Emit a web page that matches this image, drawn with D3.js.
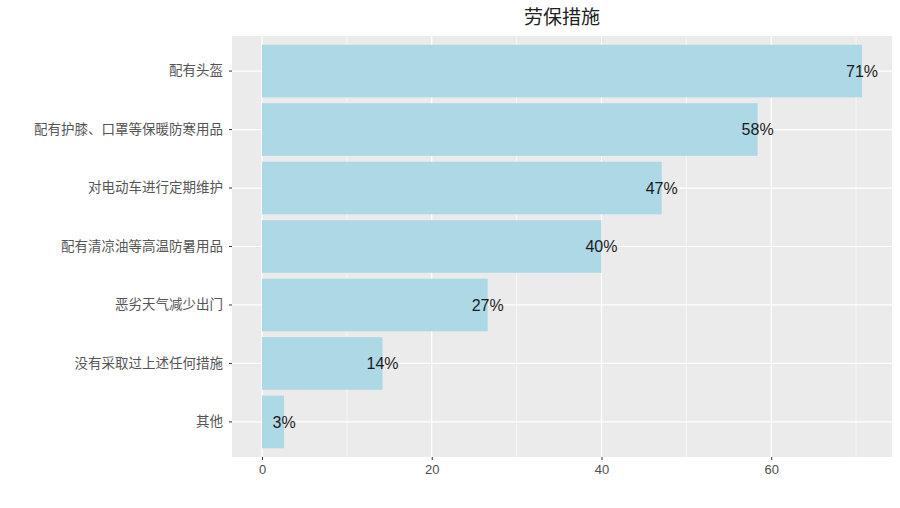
<!DOCTYPE html>
<html>
<head>
<meta charset="utf-8">
<title>劳保措施</title>
<script src="https://cdn.jsdelivr.net/npm/d3@7"></script>
<style>
  body { margin: 0; background: #fff; }
</style>
</head>
<body>
<div id="chart"></div>
<script>
// chart data
var categories = ["配有头盔", "配有护膝、口罩等保暖防寒用品", "对电动车进行定期维护",
                  "配有清凉油等高温防暑用品", "恶劣天气减少出门", "没有采取过上述任何措施", "其他"];
var values = [70.7, 58.4, 47.1, 40.0, 26.6, 14.2, 2.6];
var labels = ["71%", "58%", "47%", "40%", "27%", "14%", "3%"];
var xTicks = [0, 20, 40, 60];
var xMinor = [10, 30, 50, 70];

var width = 900, height = 508;
var panel = {left: 232, top: 36, right: 892, bottom: 457};

var svg = d3.select("#chart")
  .append("svg")
  .attr("width", width)
  .attr("height", height);

// ggplot style 5% expansion on the value axis
var maxV = d3.max(values);
var x = d3.scaleLinear()
  .domain([-maxV * 0.05, maxV * 1.05])
  .range([panel.left, panel.right]);

// discrete axis with 0.6 units of padding each side
var step = (panel.bottom - panel.top) / (categories.length + 0.2);
var y = d3.scaleBand()
  .domain(categories)
  .range([panel.top + 0.1 * step, panel.bottom - 0.1 * step])
  .paddingInner(0.1)
  .paddingOuter(0.05);

svg.append("rect")
  .attr("x", panel.left)
  .attr("y", panel.top)
  .attr("width", panel.right - panel.left)
  .attr("height", panel.bottom - panel.top)
  .style("fill", "#ebebeb");

// grid lines
svg.selectAll(".minor")
  .data(xMinor)
  .enter().append("line")
  .attr("x1", function(d) { return x(d); })
  .attr("x2", function(d) { return x(d); })
  .attr("y1", panel.top)
  .attr("y2", panel.bottom)
  .style("stroke", "#fff")
  .style("stroke-width", 0.6);

svg.selectAll(".major")
  .data(xTicks)
  .enter().append("line")
  .attr("x1", function(d) { return x(d); })
  .attr("x2", function(d) { return x(d); })
  .attr("y1", panel.top)
  .attr("y2", panel.bottom)
  .style("stroke", "#fff")
  .style("stroke-width", 1.2);

svg.selectAll(".hgrid")
  .data(categories)
  .enter().append("line")
  .attr("x1", panel.left)
  .attr("x2", panel.right)
  .attr("y1", function(d) { return y(d) + y.bandwidth() / 2; })
  .attr("y2", function(d) { return y(d) + y.bandwidth() / 2; })
  .style("stroke", "#fff")
  .style("stroke-width", 1.2);

// bars
svg.selectAll(".bar")
  .data(values)
  .enter().append("rect")
  .attr("x", x(0))
  .attr("y", function(d, i) { return y(categories[i]); })
  .attr("width", function(d) { return x(d) - x(0); })
  .attr("height", y.bandwidth())
  .style("fill", "#add8e6");

// value labels centred on bar end
svg.selectAll(".lab")
  .data(values)
  .enter().append("text")
  .attr("x", function(d) { return x(d); })
  .attr("y", function(d, i) { return y(categories[i]) + y.bandwidth() / 2; })
  .attr("text-anchor", "middle")
  .attr("dy", "0.36em")
  .style("font-family", "'Liberation Sans', Arial, sans-serif")
  .style("font-size", "16px")
  .style("fill", "#1a1a1a")
  .text(function(d, i) { return labels[i]; });

// axes
var xAxis = svg.append("g")
  .attr("transform", "translate(0," + panel.bottom + ")")
  .call(d3.axisBottom(x).tickValues(xTicks).tickSize(3).tickPadding(5));
xAxis.select(".domain").remove();
xAxis.selectAll("line").style("stroke", "#333");
xAxis.selectAll("text")
  .style("font-family", "'Liberation Sans', Arial, sans-serif")
  .style("font-size", "13px")
  .style("fill", "#4d4d4d");

var yAxis = svg.append("g")
  .attr("transform", "translate(" + panel.left + ",0)")
  .call(d3.axisLeft(y).tickSize(3).tickPadding(6));
yAxis.select(".domain").remove();
yAxis.selectAll("line").style("stroke", "#333");
yAxis.selectAll("text")
  .style("font-family", "'Noto Sans CJK SC', sans-serif")
  .style("font-size", "13.5px")
  .style("fill", "#555");

svg.append("text")
  .attr("x", (panel.left + panel.right) / 2)
  .attr("y", 24)
  .attr("text-anchor", "middle")
  .style("font-family", "'Noto Sans CJK SC', sans-serif")
  .style("font-size", "19px")
  .style("fill", "#222")
  .text("劳保措施");
</script>
</body>
</html>
